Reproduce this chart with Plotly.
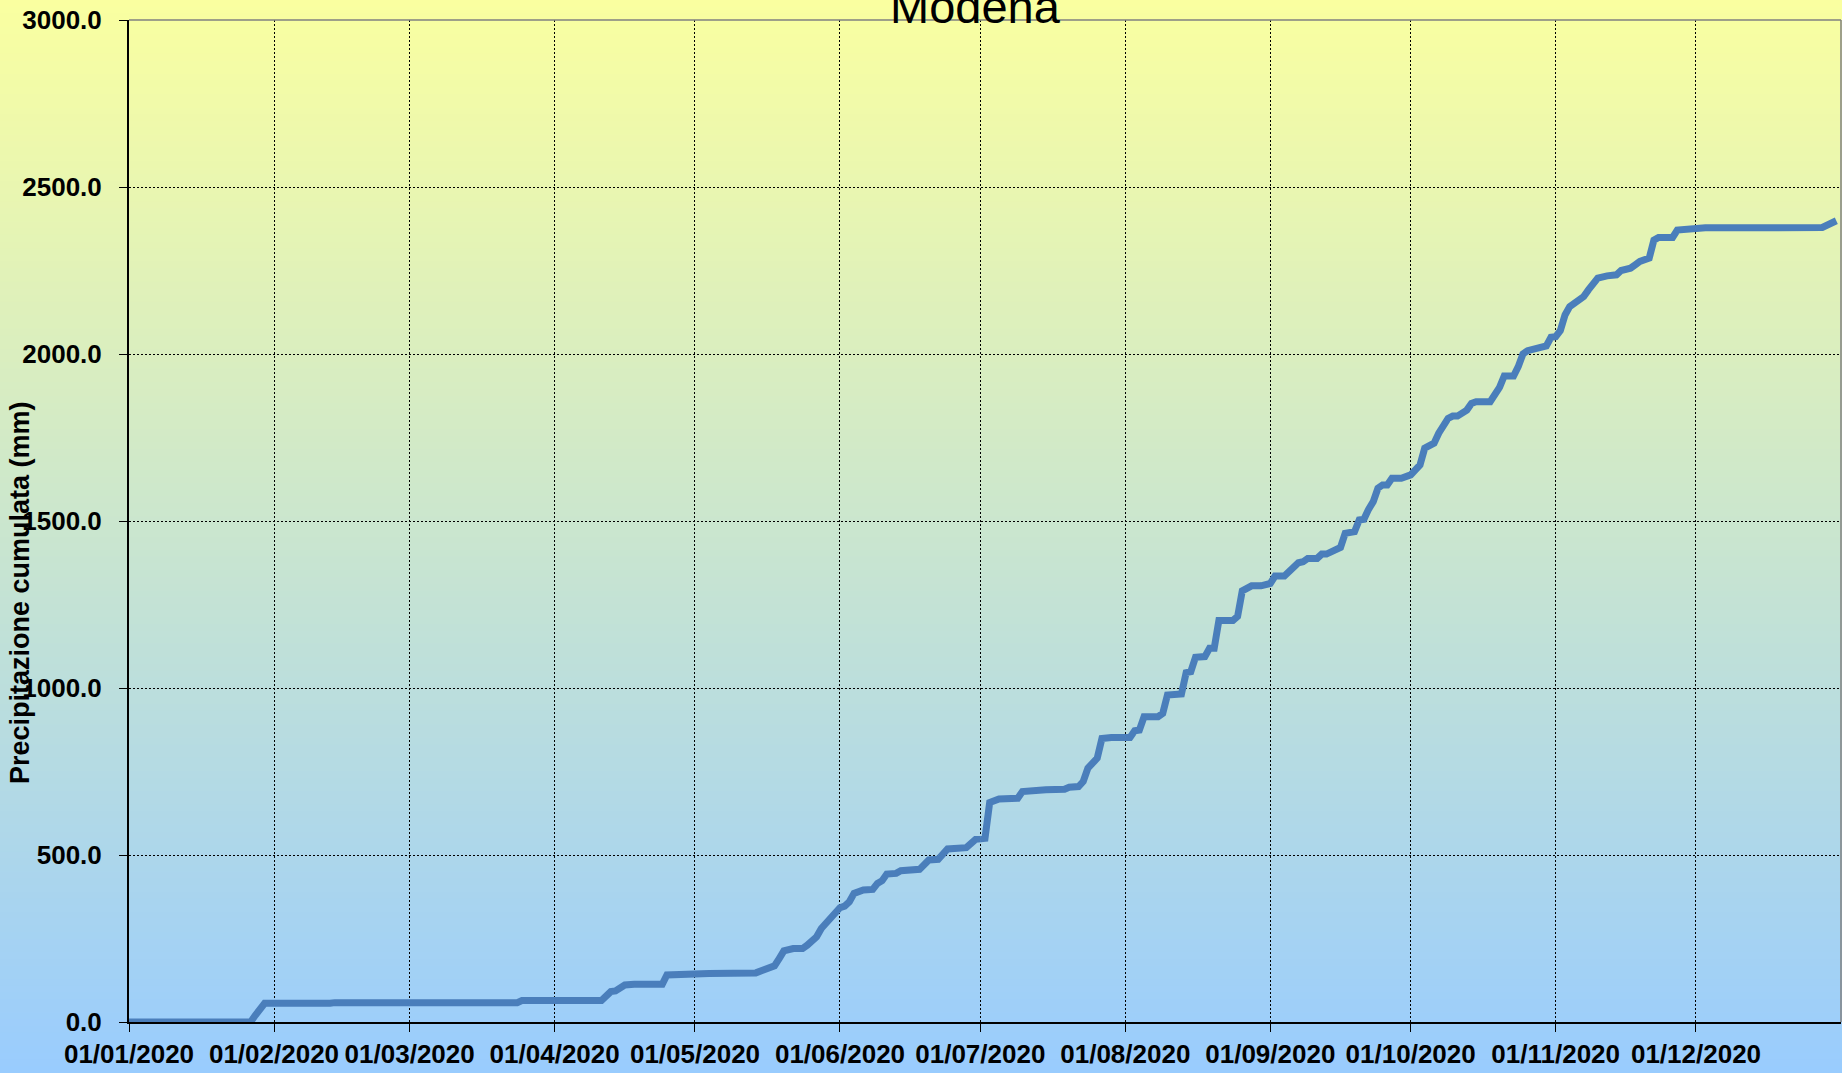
import plotly.graph_objects as go

# ---- data ----
dates = [
    "2020-01-01", "2020-01-27", "2020-01-28", "2020-01-30", "2020-02-13", "2020-02-14",
    "2020-03-24", "2020-03-25", "2020-04-11", "2020-04-13", "2020-04-14", "2020-04-16",
    "2020-04-18", "2020-04-24", "2020-04-25", "2020-05-02", "2020-05-04", "2020-05-14",
    "2020-05-16", "2020-05-18", "2020-05-19", "2020-05-20", "2020-05-22", "2020-05-24",
    "2020-05-25", "2020-05-27", "2020-05-28", "2020-05-30", "2020-06-01", "2020-06-02",
    "2020-06-03", "2020-06-04", "2020-06-06", "2020-06-08", "2020-06-09", "2020-06-10",
    "2020-06-11", "2020-06-13", "2020-06-14", "2020-06-18", "2020-06-20", "2020-06-22",
    "2020-06-24", "2020-06-28", "2020-06-30", "2020-07-02", "2020-07-03", "2020-07-05",
    "2020-07-09", "2020-07-10", "2020-07-14", "2020-07-15", "2020-07-19", "2020-07-20",
    "2020-07-22", "2020-07-23", "2020-07-24", "2020-07-26", "2020-07-27", "2020-07-29",
    "2020-08-02", "2020-08-03", "2020-08-04", "2020-08-05", "2020-08-08", "2020-08-09",
    "2020-08-10", "2020-08-13", "2020-08-14", "2020-08-15", "2020-08-16", "2020-08-18",
    "2020-08-19", "2020-08-20", "2020-08-21", "2020-08-24", "2020-08-25", "2020-08-26",
    "2020-08-28", "2020-08-30", "2020-09-01", "2020-09-02", "2020-09-04", "2020-09-07",
    "2020-09-08", "2020-09-09", "2020-09-11", "2020-09-12", "2020-09-13", "2020-09-15",
    "2020-09-16", "2020-09-17", "2020-09-19", "2020-09-20", "2020-09-21", "2020-09-22",
    "2020-09-23", "2020-09-24", "2020-09-25", "2020-09-26", "2020-09-27", "2020-09-29",
    "2020-10-01", "2020-10-03", "2020-10-04", "2020-10-06", "2020-10-07", "2020-10-09",
    "2020-10-10", "2020-10-11", "2020-10-13", "2020-10-14", "2020-10-15", "2020-10-18",
    "2020-10-19", "2020-10-20", "2020-10-21", "2020-10-23", "2020-10-24", "2020-10-25",
    "2020-10-26", "2020-10-30", "2020-10-31", "2020-11-01", "2020-11-02", "2020-11-03",
    "2020-11-04", "2020-11-06", "2020-11-07", "2020-11-08", "2020-11-10", "2020-11-12",
    "2020-11-14", "2020-11-15", "2020-11-17", "2020-11-18", "2020-11-19", "2020-11-21",
    "2020-11-22", "2020-11-23", "2020-11-26", "2020-11-27", "2020-11-29", "2020-12-03",
    "2020-12-16", "2020-12-28", "2020-12-31",
]
cumulative_mm = [
    0, 0, 20, 56, 56, 58,
    58, 64, 64, 91, 93, 111,
    113, 113, 141, 141, 145, 147,
    158, 168, 190, 213, 220, 220,
    230, 255, 280, 315, 342, 347,
    360, 385, 395, 397, 415, 423,
    443, 445, 453, 457, 485, 487,
    518, 522, 547, 550, 657, 668,
    670, 690, 690, 695, 697, 703,
    705, 720, 760, 790, 849, 852,
    852, 872, 874, 914, 914, 924,
    979, 982, 1046, 1049, 1092, 1094,
    1119, 1119, 1202, 1202, 1214, 1291,
    1306, 1306, 1313, 1335, 1335, 1375,
    1378, 1388, 1388, 1401, 1401, 1418,
    1421, 1463, 1468, 1503, 1505, 1535,
    1558, 1598, 1608, 1608, 1628, 1628,
    1638, 1668, 1718, 1733, 1763, 1807,
    1814, 1814, 1832, 1852, 1857, 1857,
    1877, 1900, 1934, 1934, 1962, 2000,
    2010, 2024, 2050, 2052, 2070, 2117,
    2142, 2165, 2172, 2192, 2227, 2234,
    2237, 2250, 2257, 2267, 2277, 2287,
    2341, 2349, 2349, 2371, 2374, 2378,
    2378, 2379, 2399,
]
tick_dates = ["2020-01-01", "2020-02-01", "2020-03-01", "2020-04-01", "2020-05-01", "2020-06-01",
              "2020-07-01", "2020-08-01", "2020-09-01", "2020-10-01", "2020-11-01", "2020-12-01"]
tick_labels = ["01/01/2020", "01/02/2020", "01/03/2020", "01/04/2020", "01/05/2020", "01/06/2020",
               "01/07/2020", "01/08/2020", "01/09/2020", "01/10/2020", "01/11/2020", "01/12/2020"]
y_ticks = [0, 500, 1000, 1500, 2000, 2500, 3000]
title_text = "Modena"
y_title = "Precipitazione cumulata (mm)"

# ---- layout geometry ----
W, H = 1842, 1073
ML, MR, MT, MB = 129, 1, 20, 51
PW, PH = W - ML - MR, H - MT - MB
FONT = "Liberation Sans, Arial, sans-serif"

def px_to_paper_x(px):
    return (px - ML) / PW

def px_to_paper_y(py):
    return (H - MB - py) / PH

fig = go.Figure()
fig.add_trace(go.Scatter(
    x=dates, y=cumulative_mm, mode="lines",
    line=dict(color="#4A7EBB", width=7),
    hoverinfo="x+y", showlegend=False,
))

# background vertical gradient (yellow -> light blue) over the whole figure
top_rgb = (250, 255, 160)
bot_rgb = (153, 204, 254)
n_bands = 160
shapes = []
for i in range(n_bands):
    t = (i + 0.5) / n_bands
    col = tuple(round(top_rgb[k] + (bot_rgb[k] - top_rgb[k]) * t) for k in range(3))
    y0 = H * i / n_bands
    y1 = H * (i + 1.6) / n_bands
    shapes.append(dict(
        type="rect", xref="paper", yref="paper", layer="below",
        x0=px_to_paper_x(-2), x1=px_to_paper_x(W + 2),
        y0=px_to_paper_y(min(y1, H + 2)), y1=px_to_paper_y(y0 - (2 if i == 0 else 0)),
        fillcolor="rgb(%d,%d,%d)" % col, line=dict(width=0),
    ))
# gray top & right border of plot area
shapes.append(dict(type="line", xref="paper", yref="paper", x0=0, x1=1, y0=1, y1=1,
                   line=dict(color="#808080", width=1.5), layer="above"))
shapes.append(dict(type="line", xref="paper", yref="paper", x0=1, x1=1, y0=0, y1=1,
                   line=dict(color="#808080", width=1.5), layer="above"))

fig.update_layout(
    width=W, height=H,
    margin=dict(l=ML, r=MR, t=MT, b=MB, pad=0, autoexpand=False),
    paper_bgcolor="rgb(153,204,254)",
    plot_bgcolor="rgba(0,0,0,0)",
    font=dict(family=FONT, size=26, color="#000000"),
    shapes=shapes,
    showlegend=False,
    annotations=[
        dict(text=title_text, xref="paper", yref="paper",
             x=px_to_paper_x(975), y=px_to_paper_y(7), xanchor="center", yanchor="middle",
             showarrow=False, font=dict(family=FONT, size=47, color="#000000")),
        dict(text="<b>" + y_title + "</b>", xref="paper", yref="paper",
             x=px_to_paper_x(20), y=px_to_paper_y(593), xanchor="center", yanchor="middle",
             textangle=-90, showarrow=False, font=dict(family=FONT, size=27, color="#000000")),
    ],
)

fig.update_xaxes(
    type="date", range=["2020-01-01", "2021-01-01"],
    tickmode="array", tickvals=tick_dates, ticktext=["<b>%s</b>" % t for t in tick_labels],
    tickangle=0, automargin=False,
    ticks="outside", ticklen=8, tickwidth=1, tickcolor="#000000",
    showgrid=True, gridcolor="#000000", gridwidth=1, griddash="2px,2px",
    showline=True, linecolor="#000000", linewidth=2,
    zeroline=False, tickfont=dict(family=FONT, size=26, color="#000000"),
    ticklabelstandoff=0,
)
fig.update_yaxes(
    range=[0, 3000], tickmode="array", tickvals=y_ticks,
    ticktext=["<b>%.1f</b>" % v for v in y_ticks],
    automargin=False,
    ticks="outside", ticklen=8, tickwidth=1, tickcolor="#000000",
    showgrid=True, gridcolor="#000000", gridwidth=1, griddash="2px,2px",
    showline=True, linecolor="#000000", linewidth=2,
    zeroline=False, tickfont=dict(family=FONT, size=26, color="#000000"),
    ticklabelstandoff=12,
)

fig.write_html(
    "out.html",
    config={"displayModeBar": False},
    post_script="document.body.style.margin='0';document.body.style.overflow='hidden';",
)
